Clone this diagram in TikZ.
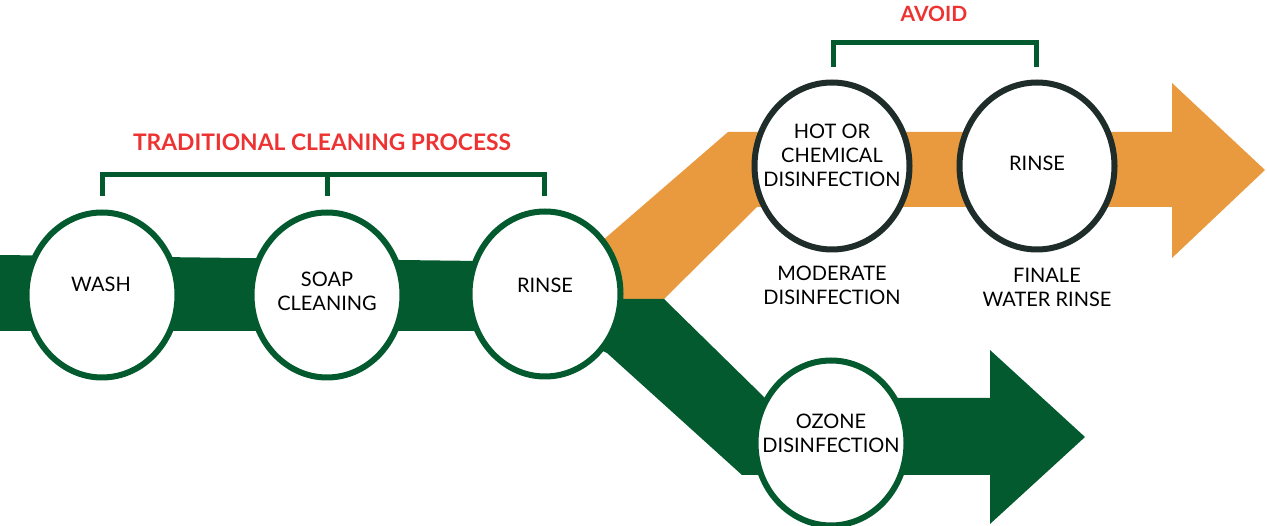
\documentclass[tikz,border=0pt]{standalone}
\usepackage{fontspec}
\setmainfont{Lato}
\usetikzlibrary{shapes.geometric}
\definecolor{dgreen}{RGB}{3,90,46}
\definecolor{orng}{RGB}{234,154,62}
\definecolor{rd}{RGB}{238,50,50}
\definecolor{darkring}{RGB}{30,45,42}
\begin{document}
\begin{tikzpicture}[x=1pt,y=-1pt,
 disc/.style={ellipse,draw=dgreen,fill=white,line width=6pt,minimum width=151pt,minimum height=165pt,inner sep=0pt},
 discdark/.style={disc,draw=darkring,minimum width=155pt,minimum height=167pt},
 lbl/.style={font=\fontsize{20}{24}\selectfont,align=center,text=black,inner sep=0pt},
 headtxt/.style={font=\bfseries\fontsize{21}{24}\selectfont,text=rd,inner sep=0pt},
 brk/.style={draw=dgreen,line width=5pt,line join=miter}]
\useasboundingbox (0,0) rectangle (1267,526);
% bands
\fill[orng] (580,299) -- (580,260) -- (728,132) -- (1172,132) -- (1172,83) -- (1265,170) -- (1172,258) -- (1172,207) -- (757,207) -- (664,299) -- cycle;
\fill[dgreen] (0,255) -- (560,262) -- (580,299) -- (664,299) -- (765,398) -- (990,398) -- (990,350) -- (1085,437) -- (990,524) -- (990,475) -- (742,475) -- (607,353) -- (560,331) -- (0,331) -- cycle;
% discs
\node[disc] (wash) at (102,295) {};
\node[disc] (soap) at (327,295) {};
\node[disc] (rinse) at (545,294) {};
\node[discdark] (hot) at (832,166) {};
\node[discdark] (rinse2) at (1037,166) {};
\node[disc] (ozone) at (831,443) {};
% labels
\node[lbl] (washT) at (101,284) {WASH};
\node[lbl] (soapT) at (327,291) {SOAP\\CLEANING};
\node[lbl] (rinseT) at (545,285) {RINSE};
\node[lbl] (hotT) at (832,155) {HOT OR\\CHEMICAL\\DISINFECTION};
\node[lbl] (rinse2T) at (1037,163) {RINSE};
\node[lbl] (modT) at (832,285) {MODERATE\\DISINFECTION};
\node[lbl] (finT) at (1047,287) {FINALE\\WATER RINSE};
\node[lbl] (ozT) at (831,433) {OZONE\\DISINFECTION};
% headings
\node[headtxt,font=\bfseries\fontsize{22.8}{26}\selectfont] (trad) at (322,142) {TRADITIONAL CLEANING PROCESS};
\node[headtxt] (avoid) at (934,14) {AVOID};
% brackets
\coordinate (b1) at (102,196); \coordinate (b2) at (544,196); \coordinate (b3) at (327,196);
\draw[brk] (b1) -- (102,175) -- (544,175) -- (b2);
\draw[brk] (327,175) -- (b3);
\coordinate (a1) at (833,67); \coordinate (a2) at (1036,67);
\draw[brk] (a1) -- (833,43) -- (1036,43) -- (a2);
\end{tikzpicture}
\end{document}
